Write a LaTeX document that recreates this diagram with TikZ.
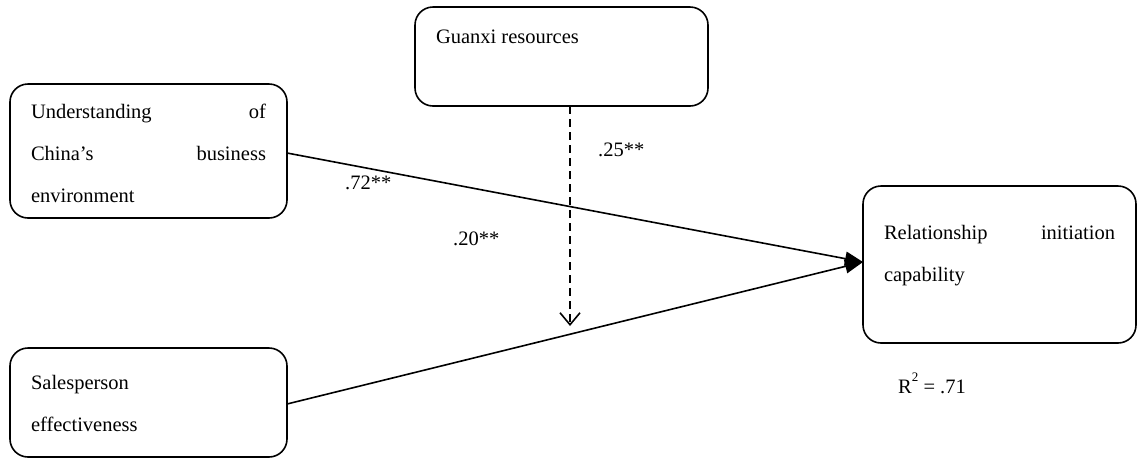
\documentclass[tikz,border=0pt]{standalone}
\usepackage{fontspec}
\setmainfont{Liberation Serif}
\usetikzlibrary{arrows.meta}
\newcommand{\bigfont}{\fontsize{20.5}{42}\selectfont}
\newcommand{\boxtext}[4]{\parbox[c][#2pt][t]{#1pt}{\bigfont\rule{0pt}{#3pt}#4}}
\begin{document}
\begin{tikzpicture}[x=1pt,y=-1pt,
  box/.style={draw, line width=1.6pt, rounded corners=18pt, inner ysep=0pt, inner xsep=21pt, outer sep=0pt},
  lbl/.style={font=\bigfont, inner sep=0pt, anchor=west},
  path/.style={line width=1.6pt, -{Triangle[length=18pt,width=14pt]}},
  modpath/.style={line width=1.6pt, dash pattern=on 8pt off 5pt, -{Straight Barb[length=12pt,width=20pt]}}
]
\useasboundingbox (0,0) rectangle (1142,459);
\node[box, minimum width=277pt, minimum height=134pt] (ucb) at (148.5,151)
  {\boxtext{235}{134}{34}{Understanding\hfill of\\China’s\hfill business\\environment}};
\node[box, minimum width=277pt, minimum height=109pt] (se) at (148.5,402.5)
  {\boxtext{235}{109}{41}{Salesperson\\effectiveness}};
\node[box, minimum width=293pt, minimum height=99pt] (gx) at (561.5,56.5)
  {\boxtext{251}{99}{36}{Guanxi resources}};
\node[box, minimum width=273pt, minimum height=157pt] (ric) at (999.5,264.5)
  {\boxtext{231}{157}{53}{Relationship\hfill initiation\\capability}};
\coordinate (mod) at (570,326);
\draw[path] ([yshift=-2pt]ucb.east) -- ([yshift=2.5pt]ric.west);
\draw[path] ([yshift=-1.5pt]se.east) -- ([yshift=2.5pt]ric.west);
\draw[modpath] ([xshift=8.5pt]gx.south) -- (mod);
\node[lbl] (l25) at (598,150) {.25**};
\node[lbl] (l72) at (345,183) {.72**};
\node[lbl] (l20) at (453,239) {.20**};
\node[lbl] (r2) at (898,383) {R\raisebox{12pt}{\fontsize{13}{13}\selectfont 2} = .71};
\end{tikzpicture}
\end{document}
